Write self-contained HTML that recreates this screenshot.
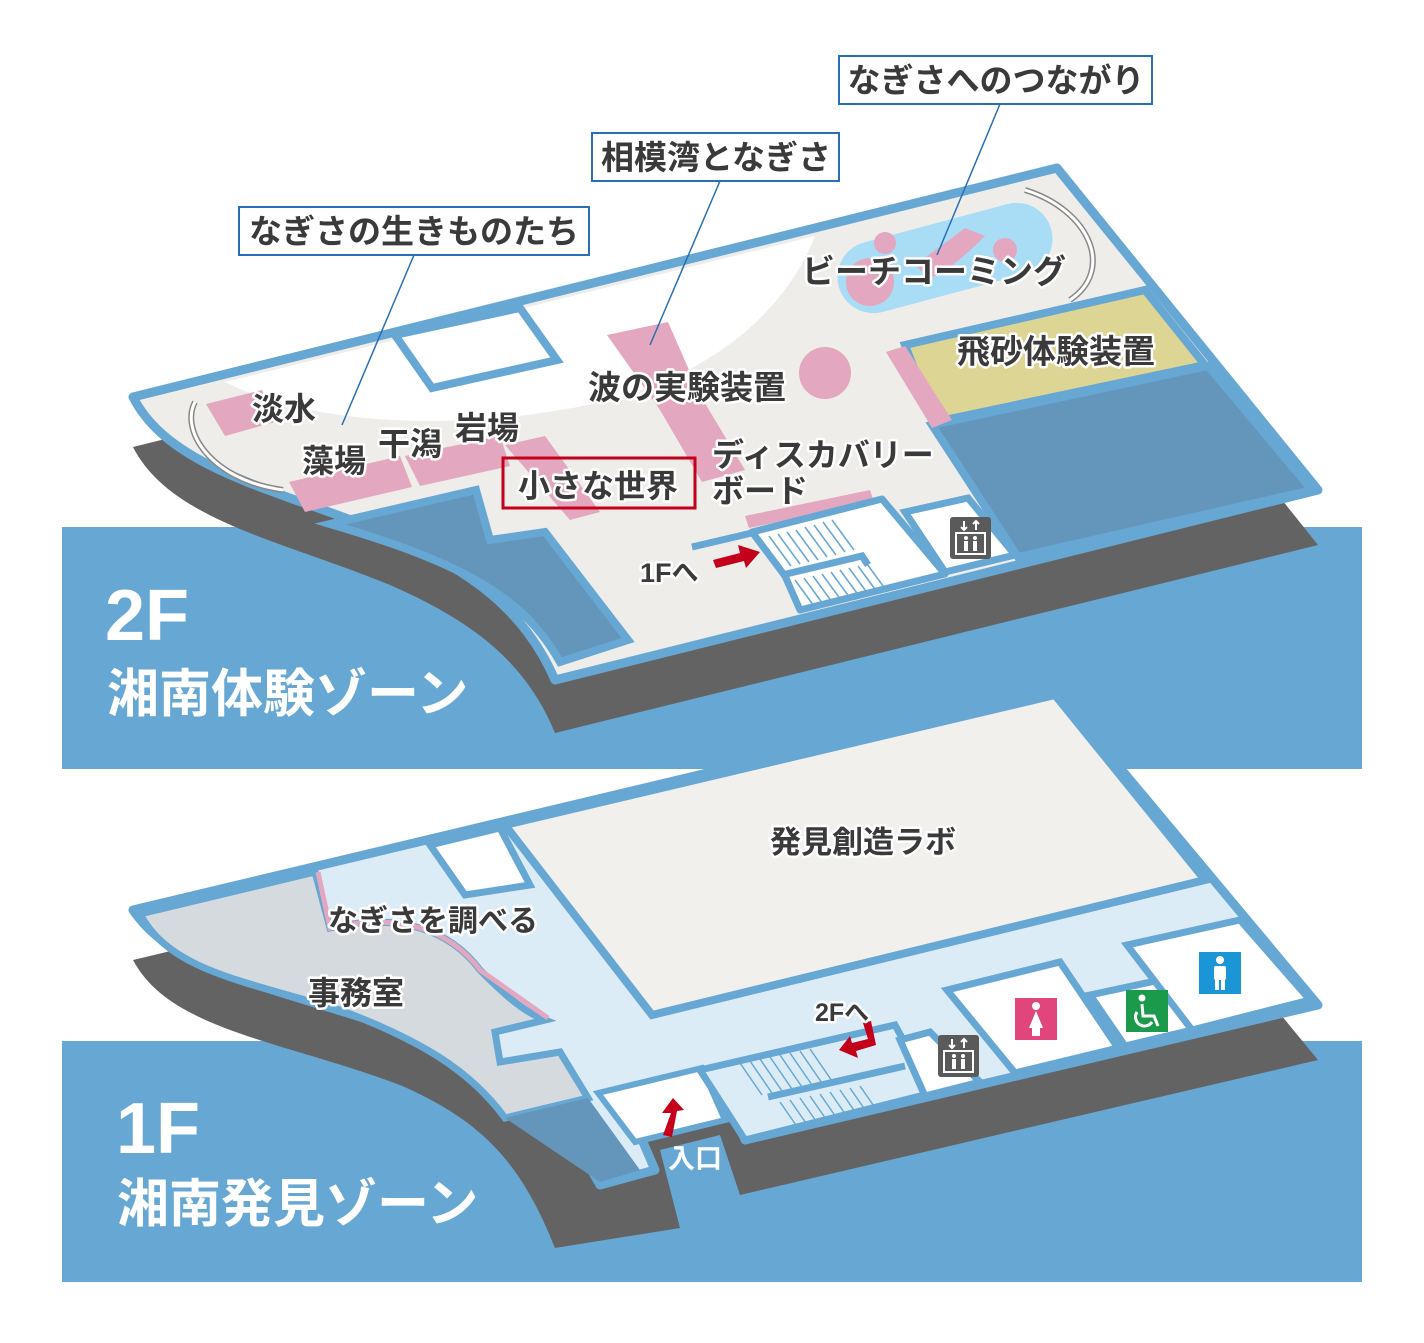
<!DOCTYPE html>
<html><head><meta charset="utf-8"><style>
html,body{margin:0;padding:0;background:#fff}
svg{display:block}
.t{font-family:"Liberation Sans","Noto Sans CJK JP",sans-serif;font-weight:bold;fill:#3a3a3a;stroke:#fff;stroke-width:5px;paint-order:stroke;stroke-linejoin:round}
.c{font-family:"Liberation Sans","Noto Sans CJK JP",sans-serif;font-weight:bold;fill:#3a3a3a}
.w{font-family:"Liberation Sans","Noto Sans CJK JP",sans-serif;font-weight:bold;fill:#fff}
</style></head><body>
<svg width="1424" height="1343" viewBox="0 0 1424 1343" xmlns="http://www.w3.org/2000/svg">
<defs>
<g id="elv">
<rect x="0" y="0" width="41" height="42" rx="3" fill="#5a5a5a"/>
<rect x="6" y="16" width="29" height="21" fill="none" stroke="#fff" stroke-width="2"/>
<path d="M14,4 L14,13 M11,10 L14,13 L17,10 M26,13 L26,4 M23,7 L26,4 L29,7" stroke="#fff" stroke-width="2" fill="none"/>
<circle cx="16" cy="21" r="2" fill="#fff"/><rect x="14" y="24" width="4" height="10" fill="#fff"/>
<circle cx="25" cy="21" r="2" fill="#fff"/><rect x="23" y="24" width="4" height="10" fill="#fff"/>
</g>
</defs>
<rect width="1424" height="1343" fill="#fff"/>
<rect x="62" y="527" width="1300" height="242" fill="#67a7d3"/>
<rect x="62" y="1041" width="1300" height="241" fill="#67a7d3"/>

<!-- ===== 2F ===== -->
<path d="M133,447 L1057,218 L1318,545 L555,733 C525,660 470,620 390,585 C280,540 170,520 133,447 Z" fill="#646363"/>
<path d="M133,397 L1057,168 L1318,490 L555,680 C525,610 470,570 390,535 C280,490 170,470 133,397 Z" fill="#eeedea" stroke="#67a7d3" stroke-width="9" stroke-linejoin="round"/>
<path d="M225,382 L815,236 C790,300 720,385 560,410 C430,432 300,420 225,382 Z" fill="#fff"/>
<polygon points="395,335 520,308 557,360 432,388" fill="#fff" stroke="#67a7d3" stroke-width="8"/>
<polygon points="905,345 1145,290 1205,365 935,422" fill="#ddd593" stroke="#67a7d3" stroke-width="8"/>
<polygon points="932,425 1208,366 1312,490 1018,557" fill="#6496bb" stroke="#67a7d3" stroke-width="8"/>
<polygon points="886,352 905,346 952,420 932,428" fill="#e3a7bf"/>
<path d="M330,524 L476,490 L490,540 L545,532 L628,640 L560,662 C525,600 470,565 330,524 Z" fill="#6496bb" stroke="#67a7d3" stroke-width="8"/>
<polygon points="206,404 262,390 275,422 225,436" fill="#e3a7bf"/>
<polygon points="289,482 400,456 412,487 305,512" fill="#e3a7bf"/>
<polygon points="405,456 500,436 510,466 420,486" fill="#e3a7bf"/>
<polygon points="505,445 545,436 600,512 570,520" fill="#e3a7bf"/>
<polygon points="607,335 668,322 700,395 745,470 702,482 660,410" fill="#e3a7bf"/>
<circle cx="825" cy="373" r="26" fill="#e3a7bf"/>
<polygon points="745,516 870,490 874,502 749,528" fill="#e3a7bf"/>
<!-- stairs -->
<polygon points="752,532 882,499 945,574 800,610 785,576" fill="#fff" stroke="#67a7d3" stroke-width="7" stroke-linejoin="round"/>
<line x1="692" y1="547" x2="756" y2="532" stroke="#67a7d3" stroke-width="7"/>
<polyline points="782,575 862,556 868,565" fill="none" stroke="#67a7d3" stroke-width="7"/>
<g stroke="#67a7d3" stroke-width="1.5">
<line x1="760" y1="538" x2="782" y2="568"/><line x1="769" y1="536" x2="791" y2="566"/><line x1="778" y1="534" x2="800" y2="564"/><line x1="787" y1="532" x2="809" y2="562"/><line x1="796" y1="530" x2="818" y2="560"/><line x1="805" y1="527" x2="827" y2="557"/><line x1="814" y1="525" x2="836" y2="555"/><line x1="823" y1="522" x2="845" y2="552"/><line x1="832" y1="520" x2="854" y2="550"/>
<line x1="795" y1="580" x2="814" y2="606"/><line x1="804" y1="578" x2="823" y2="604"/><line x1="813" y1="576" x2="832" y2="602"/><line x1="822" y1="574" x2="841" y2="600"/><line x1="831" y1="572" x2="850" y2="598"/><line x1="840" y1="570" x2="859" y2="596"/><line x1="849" y1="568" x2="868" y2="594"/><line x1="858" y1="566" x2="877" y2="592"/><line x1="867" y1="564" x2="886" y2="590"/>
</g>
<polygon points="905,512 968,498 1015,555 945,572" fill="#fff" stroke="#67a7d3" stroke-width="7"/>
<use href="#elv" x="950" y="517"/>
<!-- beach -->
<g transform="rotate(-15 945 258)">
<rect x="835" y="222" width="220" height="72" rx="36" fill="#a9dcf5"/>
</g>
<circle cx="885" cy="243" r="11" fill="#e3a7bf"/>
<circle cx="870" cy="282" r="24" fill="#e3a7bf"/>
<path d="M915,265 C935,250 950,240 965,228 L985,236 C965,255 950,270 930,278 Z" fill="#e3a7bf"/>
<circle cx="1005" cy="250" r="12" fill="#e3a7bf"/>
<path d="M195,402 C180,430 210,480 283,490" fill="none" stroke="#888" stroke-width="6"/>
<path d="M195,402 C180,430 210,480 283,490" fill="none" stroke="#fff" stroke-width="3"/>
<path d="M1025,190 C1090,210 1115,270 1070,300" fill="none" stroke="#888" stroke-width="6"/>
<path d="M1025,190 C1090,210 1115,270 1070,300" fill="none" stroke="#fff" stroke-width="3"/>
<polygon points="713,560 740,553 738,545 760,552 746,568 744,561 716,568" fill="#c5001a"/>
<g stroke="#2a6fb5" stroke-width="1.5">
<line x1="1000" y1="104" x2="937" y2="255"/>
<line x1="720" y1="181" x2="650" y2="345"/>
<line x1="414" y1="255" x2="342" y2="425"/>
</g>
<rect x="839" y="56" width="313" height="48" fill="#fff" stroke="#2a6fb5" stroke-width="2"/>
<text class="c" x="996" y="92" font-size="33" text-anchor="middle">なぎさへのつながり</text>
<rect x="592" y="133" width="247" height="48" fill="#fff" stroke="#2a6fb5" stroke-width="2"/>
<text class="c" x="716" y="169" font-size="33" text-anchor="middle">相模湾となぎさ</text>
<rect x="239" y="207" width="350" height="48" fill="#fff" stroke="#2a6fb5" stroke-width="2"/>
<text class="c" x="414" y="243" font-size="33" text-anchor="middle">なぎさの生きものたち</text>
<rect x="503" y="458" width="192" height="50" fill="none" stroke="#c5001a" stroke-width="3"/>
<text class="t" x="252" y="420" font-size="32">淡水</text>
<text class="t" x="302" y="472" font-size="32">藻場</text>
<text class="t" x="378" y="455" font-size="32">干潟</text>
<text class="t" x="455" y="439" font-size="32">岩場</text>
<text class="t" x="518" y="497" font-size="32">小さな世界</text>
<text class="t" x="588" y="399" font-size="33">波の実験装置</text>
<text class="t" x="712" y="466" font-size="32">ディスカバリー</text>
<text class="t" x="712" y="502" font-size="32">ボード</text>
<text class="t" x="802" y="283" font-size="33">ビーチコーミング</text>
<text class="t" x="957" y="363" font-size="33">飛砂体験装置</text>
<text class="t" x="640" y="582" font-size="27">1Fへ</text>
<text class="w" x="105" y="640" font-size="72">2F</text>
<text class="w" x="107" y="712" font-size="52">湘南体験ゾーン</text>

<!-- ===== 1F ===== -->
<path d="M133,960 L1055,740 L1318,1060 L740,1195 L720,1135 L660,1150 L680,1228 L555,1248 C520,1160 480,1120 400,1085 C280,1040 170,1030 133,960 Z" fill="#646363"/>
<path d="M133,910 L1055,690 L1318,1005 L745,1140 L735,1110 L640,1135 L655,1170 L600,1185 C565,1120 520,1085 440,1045 C300,990 180,980 133,910 Z" fill="#dcecf7" stroke="#67a7d3" stroke-width="9" stroke-linejoin="round"/>
<path d="M140,914 L315,872 L330,928 C400,912 450,930 480,970 C500,990 520,1010 545,1020 L495,1032 L500,1062 L560,1052 L588,1098 L505,1118 C470,1070 420,1040 340,1010 C240,980 170,970 140,914 Z" fill="#d4dade" stroke="#67a7d3" stroke-width="7"/>
<path d="M318,872 L330,928 C400,912 450,930 480,970 L548,1018" fill="none" stroke="#e3a7bf" stroke-width="5"/>
<polygon points="505,1118 588,1098 640,1170 600,1182" fill="#6496bb"/>
<polygon points="505,825 1055,695 1205,880 652,1015" fill="#f2f0ed" stroke="#67a7d3" stroke-width="8"/>
<polygon points="430,845 500,828 530,885 465,895" fill="#fff" stroke="#67a7d3" stroke-width="7"/>
<polygon points="598,1093 702,1068 725,1120 635,1142" fill="#fff" stroke="#67a7d3" stroke-width="6"/>
<polygon points="700,1070 895,1025 932,1093 745,1140" fill="#dcecf7" stroke="#67a7d3" stroke-width="7"/>
<g stroke="#67a7d3" stroke-width="1.5">
<line x1="740" y1="1063" x2="762" y2="1095"/><line x1="750" y1="1061" x2="772" y2="1093"/><line x1="760" y1="1059" x2="782" y2="1091"/><line x1="770" y1="1057" x2="792" y2="1089"/><line x1="780" y1="1055" x2="802" y2="1087"/><line x1="790" y1="1053" x2="812" y2="1085"/><line x1="800" y1="1051" x2="822" y2="1083"/><line x1="810" y1="1049" x2="832" y2="1081"/>
<line x1="780" y1="1102" x2="798" y2="1128"/><line x1="790" y1="1100" x2="808" y2="1126"/><line x1="800" y1="1098" x2="818" y2="1124"/><line x1="810" y1="1096" x2="828" y2="1122"/><line x1="820" y1="1094" x2="838" y2="1120"/><line x1="830" y1="1092" x2="848" y2="1118"/><line x1="840" y1="1090" x2="858" y2="1116"/><line x1="850" y1="1088" x2="868" y2="1114"/><line x1="860" y1="1086" x2="878" y2="1112"/>
</g>
<line x1="768" y1="1097" x2="905" y2="1066" stroke="#67a7d3" stroke-width="7"/>
<polygon points="900,1040 930,1032 980,1082 925,1096" fill="#fff" stroke="#67a7d3" stroke-width="7"/>
<polygon points="947,990 1060,962 1118,1048 1015,1073" fill="#fff" stroke="#67a7d3" stroke-width="7"/>
<polygon points="1090,995 1160,980 1192,1030 1125,1046" fill="#fff" stroke="#67a7d3" stroke-width="7"/>
<polygon points="1127,945 1240,920 1310,1000 1192,1030" fill="#fff" stroke="#67a7d3" stroke-width="7"/>
<use href="#elv" x="938" y="1035"/>
<rect x="1015" y="998" width="42" height="42" fill="#e0457b"/>
<circle cx="1036" cy="1006" r="4" fill="#fff"/><polygon points="1036,1011 1029,1028 1043,1028" fill="#fff"/><rect x="1032" y="1027" width="8" height="9" fill="#fff"/>
<rect x="1126" y="990" width="42" height="42" fill="#1a9a4a"/>
<circle cx="1142" cy="998" r="3.5" fill="#fff"/><path d="M1142,1004 L1143,1016 L1154,1016 L1158,1026 M1137,1012 A9,9 0 1 0 1152,1022" fill="none" stroke="#fff" stroke-width="3"/>
<rect x="1199" y="952" width="42" height="42" fill="#1a95d6"/>
<circle cx="1220" cy="960" r="4" fill="#fff"/><rect x="1214" y="966" width="12" height="14" rx="2" fill="#fff"/><rect x="1215" y="978" width="4" height="12" fill="#fff"/><rect x="1221" y="978" width="4" height="12" fill="#fff"/>
<polygon points="663,1135 671,1113 662,1113 673,1098 684,1110 677,1111 672,1137" fill="#c5001a"/>
<polygon points="863,1023 871,1021 876,1045 856,1051 858,1058 839,1050 850,1036 852,1043 868,1039" fill="#c5001a"/>
<text class="t" x="863" y="853" font-size="31" text-anchor="middle">発見創造ラボ</text>
<text class="t" x="328" y="931" font-size="30">なぎさを調べる</text>
<text class="t" x="308" y="1004" font-size="32">事務室</text>
<text class="t" x="815" y="1021" font-size="25">2Fへ</text>
<text class="w" x="668" y="1168" font-size="27">入口</text>
<text class="w" x="116" y="1153" font-size="72">1F</text>
<text class="w" x="117" y="1222" font-size="52">湘南発見ゾーン</text>
</svg>
</body></html>
